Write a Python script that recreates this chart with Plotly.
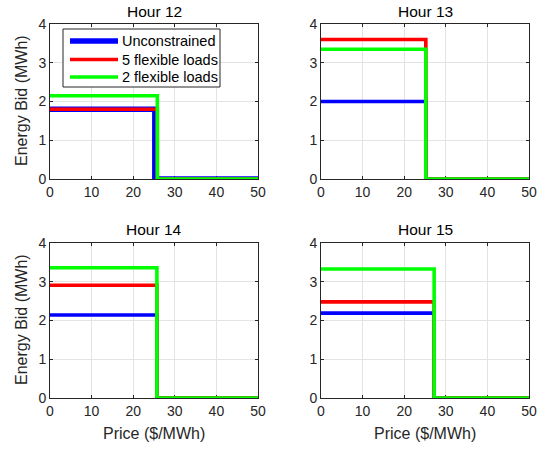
import plotly.graph_objects as go

# ---- data ----
hours = ["Hour 12", "Hour 13", "Hour 14", "Hour 15"]
series_names = ["Unconstrained", "5 flexible loads", "2 flexible loads"]
series_colors = ["#0000ff", "#ff0000", "#00ff00"]
# clearing price at which each bid drops to zero ($/MWh), per hour
drop_unconstrained = [25.2, 25.2, 25.7, 27.2]
drop_five = [25.8, 25.2, 25.7, 27.2]
drop_two = [25.8, 25.2, 25.7, 27.2]
# energy bid level before the drop (MWh), per hour
bid_unconstrained = [1.80, 2.00, 2.14, 2.19]
bid_five = [1.80, 3.60, 2.91, 2.48]
bid_two = [2.15, 3.35, 3.36, 3.33]
price_max = 50
x_ticks = [0, 10, 20, 30, 40, 50]
y_ticks = [0, 1, 2, 3, 4]

drops = [drop_unconstrained, drop_five, drop_two]
bids = [bid_unconstrained, bid_five, bid_two]

W, H = 546, 450
# panel pixel boxes (left, right, top, bottom)
boxes = [(50, 258, 24, 179), (321, 529, 24, 179), (50, 258, 243, 398), (321, 529, 243, 398)]

fig = go.Figure()
font_fam = "Liberation Sans, Arial, sans-serif"
axcol = "#262626"


def lw(s, i):
    return 5.5 if (s == 0 and i == 0) else 3.6


for i, hname in enumerate(hours):
    xa = "x" if i == 0 else f"x{i+1}"
    ya = "y" if i == 0 else f"y{i+1}"
    for s in range(3):
        fig.add_trace(go.Scatter(
            x=[0, drops[s][i], price_max],
            y=[bids[s][i], 0, 0],
            mode="lines", line=dict(color=series_colors[s], width=lw(s, i), shape="hv"),
            name=series_names[s], showlegend=False, cliponaxis=False,
            xaxis=xa, yaxis=ya,
        ))
    l, r, t, b = boxes[i]
    xkey = "xaxis" if i == 0 else f"xaxis{i+1}"
    ykey = "yaxis" if i == 0 else f"yaxis{i+1}"
    common = dict(showline=True, mirror="ticks", linecolor=axcol, linewidth=1,
                  ticks="inside", ticklen=3, tickcolor=axcol, automargin=False,
                  showgrid=True, gridcolor="#e3e3e3", gridwidth=1, zeroline=False,
                  layer="below traces",
                  tickfont=dict(size=14, color=axcol, family=font_fam))
    fig.update_layout(**{
        xkey: dict(domain=[l / W, r / W], range=[0, price_max], tickvals=x_ticks,
                   anchor=ya, **common),
        ykey: dict(domain=[1 - b / H, 1 - t / H], range=[0, 4], tickvals=y_ticks,
                   anchor=xa, **common),
    })
    fig.add_annotation(text=hname, x=(l + r) / 2 / W, y=1 - (t - 13) / H,
                       xref="paper", yref="paper", showarrow=False,
                       font=dict(size=15.5, color="#000000", family=font_fam),
                       xanchor="center", yanchor="middle")

for yc in [101, 320]:
    fig.add_annotation(text="Energy Bid (MWh)", x=21 / W, y=1 - yc / H, xref="paper", yref="paper",
                       showarrow=False, textangle=-90,
                       font=dict(size=16, color=axcol, family=font_fam),
                       xanchor="center", yanchor="middle")
for xc in [154, 425]:
    fig.add_annotation(text="Price ($/MWh)", x=xc / W, y=1 - 433 / H, xref="paper", yref="paper",
                       showarrow=False,
                       font=dict(size=16, color=axcol, family=font_fam),
                       xanchor="center", yanchor="middle")

# ---- legend box (drawn in the top-left panel, paper coordinates) ----
leg_l, leg_r, leg_t, leg_b = 63, 220, 29, 87
fig.add_shape(type="rect", xref="paper", yref="paper",
              x0=leg_l / W, x1=leg_r / W, y0=1 - leg_b / H, y1=1 - leg_t / H,
              line=dict(color=axcol, width=1), fillcolor="white", layer="above")
row_y = [41, 59.5, 77]
for s in range(3):
    fig.add_shape(type="line", xref="paper", yref="paper",
                  x0=70 / W, x1=118 / W, y0=1 - row_y[s] / H, y1=1 - row_y[s] / H,
                  line=dict(color=series_colors[s], width=lw(s, 0)), layer="above")
    fig.add_annotation(text=series_names[s], x=120 / W, y=1 - row_y[s] / H,
                       xref="paper", yref="paper", showarrow=False,
                       font=dict(size=14.5, color="#000000", family=font_fam),
                       xanchor="left", yanchor="middle")

fig.update_layout(
    width=W, height=H, margin=dict(l=0, r=0, t=0, b=0),
    paper_bgcolor="white", plot_bgcolor="white",
    font=dict(family=font_fam), showlegend=False,
)

fig.write_html("out.html", config={"displayModeBar": False},
               post_script="document.body.style.margin='0';")
